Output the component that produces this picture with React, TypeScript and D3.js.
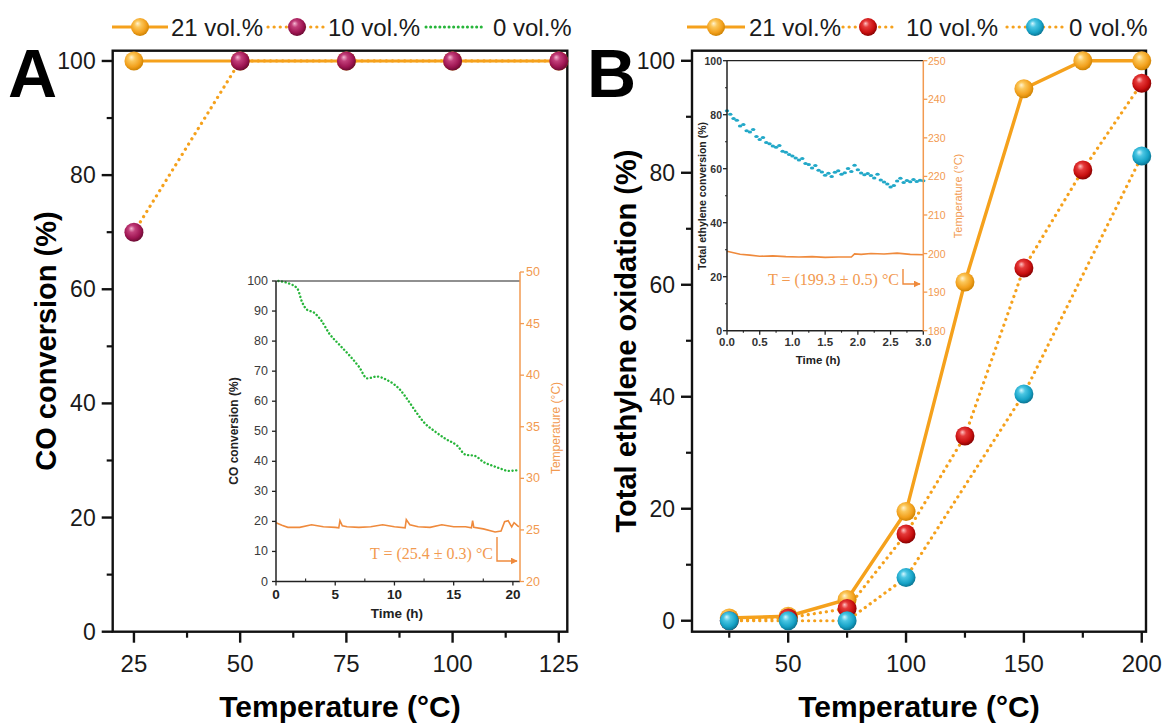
import React from 'react';
import * as d3 from 'd3';

// ---------- DATA ----------
const tempsA = [25, 50, 75, 100, 125];
const coA21 = [100, 100, 100, 100, 100];
const coA10 = [70, 100, 100, 100, 100];

const tempsB = [25, 50, 75, 100, 125, 150, 175, 200];
const ethB21 = [0.5, 0.8, 3.8, 19.5, 60.5, 95, 100, 100];
const ethB10 = [0, 0.5, 2.2, 15.5, 33, 63, 80.5, 96];
const tempsB0 = [25, 50, 75, 100, 150, 200];
const ethB0 = [0, 0, 0, 7.7, 40.5, 83];

const xTicksA = [25, 50, 75, 100, 125];
const xTicksB = [50, 100, 150, 200];
const yTicksMain = [0, 20, 40, 60, 80, 100];

// Inset A: CO conversion vs time (green) and temperature (orange)
const insetATime = [0.2, 1, 1.8, 2.2, 2.6, 3.2, 3.8, 4.5, 5.3, 6.3, 7, 7.7, 8.5, 9.3, 10.5, 11.2, 11.9, 12.6, 13.3, 14.3, 15.3, 16, 16.8, 17.5, 18.3, 19, 19.6, 20.3];
const insetACO = [100, 99.3, 97.5, 93, 90.5, 89.5, 87, 82.5, 79, 74.8, 71.5, 67.6, 68.2, 67.2, 63.7, 60, 56, 52.5, 50.3, 47.5, 45.2, 42.2, 41.8, 39.8, 38.5, 37.5, 36.8, 37];
const insetATempTime = [0, 0.5, 1, 2, 3, 4, 5, 5.3, 5.4, 5.6, 6, 7, 8, 9, 10, 10.9, 11, 11.3, 12, 13, 14, 15, 16, 16.5, 16.6, 16.7, 17.5, 18.5, 19, 19.3, 19.6, 19.9, 20.1, 20.5];
const insetATemp = [25.7, 25.45, 25.25, 25.25, 25.5, 25.3, 25.25, 25.2, 25.9, 25.4, 25.3, 25.25, 25.3, 25.5, 25.3, 25.2, 26.0, 25.5, 25.3, 25.25, 25.5, 25.3, 25.3, 25.2, 25.9, 25.25, 25.1, 24.8, 24.9, 25.8, 25.9, 25.3, 25.7, 25.3];
const insetAXTicks = [0, 5, 10, 15, 20];
const insetAYTicks = [0, 10, 20, 30, 40, 50, 60, 70, 80, 90, 100];
const insetATTicks = [20, 25, 30, 35, 40, 45, 50];

// Inset B: ethylene conversion vs time (cyan) and temperature (orange)
const insetBTime = [0, 0.05, 0.1, 0.15, 0.2, 0.25, 0.3, 0.35, 0.4, 0.45, 0.5, 0.55, 0.6, 0.65, 0.7, 0.75, 0.8, 0.85, 0.9, 0.95, 1, 1.05, 1.1, 1.15, 1.2, 1.25, 1.3, 1.35, 1.4, 1.45, 1.5, 1.55, 1.6, 1.65, 1.7, 1.75, 1.8, 1.85, 1.9, 1.95, 2, 2.05, 2.1, 2.15, 2.2, 2.25, 2.3, 2.35, 2.4, 2.45, 2.5, 2.55, 2.6, 2.65, 2.7, 2.75, 2.8, 2.85, 2.9, 2.95, 3];
const insetBConv = [81.5, 80.2, 78.6, 77.9, 75.8, 76.4, 74.1, 73.6, 74.5, 71.9, 70.8, 71.6, 69.7, 69.2, 68.4, 67.9, 68.6, 66.5, 66.1, 65.3, 64.7, 64.0, 63.2, 63.8, 61.9, 61.6, 60.3, 61.2, 59.4, 58.8, 57.6, 58.3, 57.1, 58.7, 59.2, 57.9, 58.5, 60.1, 59.0, 61.3, 59.6, 58.4, 57.8, 58.2, 57.5, 56.6, 57.9, 55.8, 55.1, 54.3, 53.2, 53.8, 55.4, 56.5, 54.9, 55.6, 55.2, 56.0, 55.3, 55.7, 55.5];
const insetBTempTime = [0, 0.1, 0.2, 0.35, 0.5, 0.7, 0.9, 1.1, 1.3, 1.5, 1.7, 1.9, 1.95, 2.05, 2.2, 2.4, 2.6, 2.8, 3];
const insetBTemp = [200.6, 200.2, 199.8, 199.6, 199.3, 199.4, 199.2, 199.1, 199.2, 199.0, 199.1, 199.1, 199.9, 199.8, 200.0, 199.9, 200.1, 199.8, 199.7];
const insetBXTicks = [0, 0.5, 1, 1.5, 2, 2.5, 3];
const insetBYTicks = [0, 20, 40, 60, 80, 100];
const insetBTTicks = [180, 190, 200, 210, 220, 230, 240, 250];

// ---------- STYLE ----------
const ORANGE = '#F5A11C';
const TEMP_ORANGE = '#EF8A3C';
const TEMP_TEXT = '#F29A50';
const GREEN = '#27B53A';
const CYAN_PT = '#22A8C8';
const SANS = '"Liberation Sans", Arial, sans-serif';
const SERIF = '"Liberation Serif", "Times New Roman", serif';

const balls: Record<string, [string, string, string, string]> = {
  orange: ['#FFF3D0', '#FBC75A', '#F2A01C', '#C97F00'],
  purple: ['#F6B9D3', '#C23F7A', '#9E1552', '#66092F'],
  red: ['#FFC2C2', '#E53A3A', '#C80F0F', '#7E0000'],
  cyan: ['#D4F7FF', '#4BC6E3', '#16A2C6', '#0A6F8C'],
};

const Ball = ({ x, y, c, r = 9.5 }: { x: number; y: number; c: string; r?: number }) => (
  <circle cx={x} cy={y} r={r} fill={`url(#ball-${c})`} />
);

export default function App() {
  // main scales
  const xA = d3.scaleLinear().domain([20, 127]).range([112.7, 567.3]);
  const yA = d3.scaleLinear().domain([0, 101.8]).range([631.7, 50.7]);
  const xB = d3.scaleLinear().domain([9.2, 201.8]).range([692, 1146]);
  const yB = d3.scaleLinear().domain([-1.96, 101.8]).range([631.7, 50.7]);

  // inset scales
  const xIA = d3.scaleLinear().domain([0, 20.6]).range([276, 520]);
  const yIA = d3.scaleLinear().domain([0, 100]).range([581.5, 281]);
  const yIAT = d3.scaleLinear().domain([20, 50]).range([581.5, 272]);
  const xIB = d3.scaleLinear().domain([0, 3]).range([727, 923.3]);
  const yIB = d3.scaleLinear().domain([0, 100]).range([330.7, 60.7]);
  const yIBT = d3.scaleLinear().domain([180, 250]).range([330.7, 60.7]);

  const lineA = d3.line<number>().x((_, i) => xA(tempsA[i])).y((d) => yA(d));
  const lineB = (ts: number[]) => d3.line<number>().x((_, i) => xB(ts[i])).y((d) => yB(d));
  const lineIA = d3.line<number>().x((_, i) => xIA(insetATime[i])).y((d) => yIA(d)).curve(d3.curveMonotoneX);
  const lineIAT = d3.line<number>().x((_, i) => xIA(insetATempTime[i])).y((d) => yIAT(d));
  const lineIBT = d3.line<number>().x((_, i) => xIB(insetBTempTime[i])).y((d) => yIBT(d));

  const dotted = { stroke: ORANGE, strokeWidth: 3.2, fill: 'none', strokeDasharray: '0.1 6', strokeLinecap: 'round' as const };

  const mainFrame = (x0: number, x1: number, y0: number, y1: number) => (
    <rect x={x0} y={y0} width={x1 - x0} height={y1 - y0} fill="none" stroke="#111" strokeWidth={2.4} />
  );

  const renderMainAxes = (
    xs: d3.ScaleLinear<number, number>, ys: d3.ScaleLinear<number, number>,
    xMajor: number[], xMinor: number[], yMajor: number[], yMinor: number[],
    left: number, bottom: number, key: string,
  ) => (
    <g key={key} fontFamily={SANS}>
      {xMajor.map((t) => (
        <g key={'xm' + t}>
          <line x1={xs(t)} x2={xs(t)} y1={bottom} y2={bottom + 11} stroke="#111" strokeWidth={2.4} />
          <text x={xs(t)} y={663} fontSize={24} textAnchor="middle" dominantBaseline="central" fill="#1a1a1a">{String(t)}</text>
        </g>
      ))}
      {xMinor.map((t) => (
        <line key={'xn' + t} x1={xs(t)} x2={xs(t)} y1={bottom} y2={bottom + 6} stroke="#111" strokeWidth={2.2} />
      ))}
      {yMajor.map((t) => (
        <g key={'ym' + t}>
          <line x1={left - 11} x2={left} y1={ys(t)} y2={ys(t)} stroke="#111" strokeWidth={2.4} />
          <text x={left - 17} y={ys(t)} fontSize={23} textAnchor="end" dominantBaseline="central" fill="#1a1a1a">{String(t)}</text>
        </g>
      ))}
      {yMinor.map((t) => (
        <line key={'yn' + t} x1={left - 6} x2={left} y1={ys(t)} y2={ys(t)} stroke="#111" strokeWidth={2.2} />
      ))}
    </g>
  );

  const yMinorMain = [10, 30, 50, 70, 90];

  return (
    <svg width={1163} height={724} style={{ position: 'absolute', left: 0, top: 0, background: '#fff' }}>
      <defs>
        {Object.entries(balls).map(([k, c]) => (
          <radialGradient key={k} id={`ball-${k}`} cx="0.45" cy="0.42" r="0.6" fx="0.36" fy="0.3">
            <stop offset="0%" stopColor={c[0]} />
            <stop offset="30%" stopColor={c[1]} />
            <stop offset="72%" stopColor={c[2]} />
            <stop offset="100%" stopColor={c[3]} />
          </radialGradient>
        ))}
        <marker id="arrA" viewBox="0 0 10 10" refX="9" refY="5" markerWidth="5" markerHeight="5" orient="auto">
          <path d="M0,0 L10,5 L0,10 z" fill={TEMP_ORANGE} />
        </marker>
      </defs>
      <rect x={0} y={0} width={1163} height={724} fill="#fff" />

      {/* ================= PANEL A ================= */}
      <text x={8} y={97} fontFamily={SANS} fontWeight="bold" fontSize={68} fill="#000">A</text>

      <g fontFamily={SANS} fontSize={24} fill="#1a1a1a">
        <line x1={112} x2={168} y1={27} y2={27} stroke={ORANGE} strokeWidth={3} />
        <Ball x={140} y={27} c="orange" r={9} />
        <text x={171} y={27} dominantBaseline="central">21 vol.%</text>
        <line x1={268} x2={324} y1={27} y2={27} {...dotted} />
        <Ball x={297} y={27} c="purple" r={9} />
        <text x={328} y={27} dominantBaseline="central">10 vol.%</text>
        <line x1={426} x2={484} y1={27} y2={27} stroke={GREEN} strokeWidth={3} strokeDasharray="0.1 4.5" strokeLinecap="round" />
        <text x={493} y={27} dominantBaseline="central">0 vol.%</text>
      </g>

      {/* Inset A */}
      <g>
        <path d={lineIAT(insetATemp) || ''} fill="none" stroke={TEMP_ORANGE} strokeWidth={1.6} />
        <path d={lineIA(insetACO) || ''} fill="none" stroke={GREEN} strokeWidth={2.4} strokeDasharray="0.1 3.6" strokeLinecap="round" />
        <line x1={276} x2={276} y1={281} y2={581.5} stroke="#222" strokeWidth={1.5} />
        <line x1={276} x2={520} y1={581.5} y2={581.5} stroke="#222" strokeWidth={1.5} />
        <line x1={276} x2={520} y1={281} y2={281} stroke="#222" strokeWidth={1.2} />
        <line x1={520} x2={520} y1={272} y2={581.5} stroke={TEMP_TEXT} strokeWidth={1.5} />
        {insetAYTicks.map((t) => (
          <g key={'iay' + t}>
            <line x1={272} x2={276} y1={yIA(t)} y2={yIA(t)} stroke="#222" strokeWidth={1.3} />
            <text x={268} y={yIA(t)} fontFamily={SANS} fontSize={12.5} textAnchor="end" dominantBaseline="central" fill="#3a3a3a">{t}</text>
          </g>
        ))}
        {insetAXTicks.map((t) => (
          <g key={'iax' + t}>
            <line x1={xIA(t)} x2={xIA(t)} y1={581.5} y2={585.5} stroke="#222" strokeWidth={1.3} />
            <text x={xIA(t)} y={594} fontFamily={SANS} fontSize={13.5} fontWeight="bold" textAnchor="middle" dominantBaseline="central" fill="#222">{t}</text>
          </g>
        ))}
        {[2.5, 7.5, 12.5, 17.5].map((t) => (
          <line key={'iaxn' + t} x1={xIA(t)} x2={xIA(t)} y1={581.5} y2={578.5} stroke="#222" strokeWidth={1.1} />
        ))}
        {insetATTicks.map((t) => (
          <g key={'iat' + t}>
            <line x1={520} x2={524} y1={yIAT(t)} y2={yIAT(t)} stroke={TEMP_TEXT} strokeWidth={1.3} />
            <text x={526} y={yIAT(t)} fontFamily={SANS} fontSize={12.5} dominantBaseline="central" fill={TEMP_TEXT}>{t}</text>
          </g>
        ))}
        <text x={397} y={613} fontFamily={SANS} fontSize={13.5} fontWeight="bold" textAnchor="middle" dominantBaseline="central" fill="#222">Time (h)</text>
        <text transform="translate(234,431) rotate(-90)" fontFamily={SANS} fontSize={12} fontWeight="bold" textAnchor="middle" dominantBaseline="central" fill="#222">CO conversion (%)</text>
        <text transform="translate(556,428) rotate(-90)" fontFamily={SANS} fontSize={12} textAnchor="middle" dominantBaseline="central" fill={TEMP_TEXT}>Temperature (°C)</text>
        <text x={493} y={553} fontFamily={SERIF} fontSize={16} textAnchor="end" dominantBaseline="central" fill={TEMP_TEXT}>T = (25.4 ± 0.3) °C</text>
        <polyline points="497,537 497,561 517,561" fill="none" stroke={TEMP_ORANGE} strokeWidth={1.4} markerEnd="url(#arrA)" />
      </g>

      {renderMainAxes(xA, yA, xTicksA, [37.5, 62.5, 87.5, 112.5], yTicksMain, yMinorMain, 112.7, 631.7, 'axA')}
      {mainFrame(112.7, 567.3, 50.7, 631.7)}

      <path d={lineA(coA10) || ''} {...dotted} />
      <path d={lineA(coA21) || ''} fill="none" stroke={ORANGE} strokeWidth={3} />
      {coA21.map((v, i) => <Ball key={'a21' + i} x={xA(tempsA[i])} y={yA(v)} c="orange" />)}
      {coA10.map((v, i) => <Ball key={'a10' + i} x={xA(tempsA[i])} y={yA(v)} c="purple" />)}

      <text transform="translate(46,341) rotate(-90)" fontFamily={SANS} fontSize={29} fontWeight="bold" textAnchor="middle" dominantBaseline="central" fill="#000">CO conversion (%)</text>
      <text x={340} y={706} fontFamily={SANS} fontSize={30} fontWeight="bold" textAnchor="middle" dominantBaseline="central" fill="#000">Temperature (°C)</text>

      {/* ================= PANEL B ================= */}
      <text x={587} y={97} fontFamily={SANS} fontWeight="bold" fontSize={68} fill="#000">B</text>

      <g fontFamily={SANS} fontSize={24} fill="#1a1a1a">
        <line x1={687} x2={745} y1={27} y2={27} stroke={ORANGE} strokeWidth={3} />
        <Ball x={716} y={27} c="orange" r={9} />
        <text x={749} y={27} dominantBaseline="central">21 vol.%</text>
        <line x1={843} x2={897} y1={27} y2={27} {...dotted} />
        <Ball x={868} y={27} c="red" r={9} />
        <text x={906} y={27} dominantBaseline="central">10 vol.%</text>
        <line x1={1007} x2={1062} y1={27} y2={27} {...dotted} />
        <Ball x={1035} y={27} c="cyan" r={9} />
        <text x={1069} y={27} dominantBaseline="central">0 vol.%</text>
      </g>

      {renderMainAxes(xB, yB, xTicksB, [25, 75, 125, 175], yTicksMain, yMinorMain, 692, 631.7, 'axB')}
      {mainFrame(692, 1146, 50.7, 631.7)}

      {/* Inset B */}
      <g>
        <path d={lineIBT(insetBTemp) || ''} fill="none" stroke={TEMP_ORANGE} strokeWidth={1.6} />
        {insetBConv.map((v, i) => (
          <ellipse key={'ib' + i} cx={xIB(insetBTime[i])} cy={yIB(v)} rx={2.2} ry={1.5} fill={CYAN_PT} />
        ))}
        <line x1={727} x2={727} y1={60.7} y2={330.7} stroke="#222" strokeWidth={1.5} />
        <line x1={727} x2={923.3} y1={330.7} y2={330.7} stroke="#222" strokeWidth={1.5} />
        <line x1={727} x2={923.3} y1={60.7} y2={60.7} stroke="#222" strokeWidth={1.2} />
        <line x1={923.3} x2={923.3} y1={60.7} y2={330.7} stroke={TEMP_TEXT} strokeWidth={1.5} />
        {insetBYTicks.map((t) => (
          <g key={'iby' + t}>
            <line x1={723} x2={727} y1={yIB(t)} y2={yIB(t)} stroke="#222" strokeWidth={1.3} />
            <text x={722} y={yIB(t)} fontFamily={SANS} fontSize={10.5} fontWeight="bold" textAnchor="end" dominantBaseline="central" fill="#333">{t}</text>
          </g>
        ))}
        {[10, 30, 50, 70, 90].map((t) => (
          <line key={'ibyn' + t} x1={725} x2={727} y1={yIB(t)} y2={yIB(t)} stroke="#222" strokeWidth={1.1} />
        ))}
        {insetBXTicks.map((t) => (
          <g key={'ibx' + t}>
            <line x1={xIB(t)} x2={xIB(t)} y1={330.7} y2={334.7} stroke="#222" strokeWidth={1.3} />
            <text x={xIB(t)} y={342} fontFamily={SANS} fontSize={11.5} fontWeight="bold" textAnchor="middle" dominantBaseline="central" fill="#333">{t.toFixed(1)}</text>
          </g>
        ))}
        {[0.25, 0.75, 1.25, 1.75, 2.25, 2.75].map((t) => (
          <line key={'ibxn' + t} x1={xIB(t)} x2={xIB(t)} y1={330.7} y2={332.7} stroke="#222" strokeWidth={1.1} />
        ))}
        {insetBTTicks.map((t) => (
          <g key={'ibt' + t}>
            <line x1={923.3} x2={927.3} y1={yIBT(t)} y2={yIBT(t)} stroke={TEMP_TEXT} strokeWidth={1.3} />
            <text x={928} y={yIBT(t)} fontFamily={SANS} fontSize={10.5} dominantBaseline="central" fill={TEMP_TEXT}>{t}</text>
          </g>
        ))}
        <text x={818} y={360} fontFamily={SANS} fontSize={11.5} fontWeight="bold" textAnchor="middle" dominantBaseline="central" fill="#222">Time (h)</text>
        <text transform="translate(702,196) rotate(-90)" fontFamily={SANS} fontSize={10.5} fontWeight="bold" textAnchor="middle" dominantBaseline="central" fill="#222">Total ethylene conversion (%)</text>
        <text transform="translate(958,196) rotate(-90)" fontFamily={SANS} fontSize={11} textAnchor="middle" dominantBaseline="central" fill={TEMP_TEXT}>Temperature (°C)</text>
        <text x={899} y={279} fontFamily={SERIF} fontSize={16} textAnchor="end" dominantBaseline="central" fill={TEMP_TEXT}>T = (199.3 ± 0.5) °C</text>
        <polyline points="903,269 903,284 920,284" fill="none" stroke={TEMP_ORANGE} strokeWidth={1.4} markerEnd="url(#arrA)" />
      </g>

      <path d={lineB(tempsB)(ethB10) || ''} {...dotted} />
      <path d={lineB(tempsB0)(ethB0) || ''} {...dotted} />
      <path d={lineB(tempsB)(ethB21) || ''} fill="none" stroke={ORANGE} strokeWidth={3.4} />
      {ethB21.map((v, i) => <Ball key={'b21' + i} x={xB(tempsB[i])} y={yB(v)} c="orange" />)}
      {ethB10.map((v, i) => <Ball key={'b10' + i} x={xB(tempsB[i])} y={yB(v)} c="red" />)}
      {ethB0.map((v, i) => <Ball key={'b0' + i} x={xB(tempsB0[i])} y={yB(v)} c="cyan" />)}

      <text transform="translate(626,341) rotate(-90)" fontFamily={SANS} fontSize={29} fontWeight="bold" textAnchor="middle" dominantBaseline="central" fill="#000">Total ethylene oxidation (%)</text>
      <text x={919} y={706} fontFamily={SANS} fontSize={30} fontWeight="bold" textAnchor="middle" dominantBaseline="central" fill="#000">Temperature (°C)</text>
    </svg>
  );
}
